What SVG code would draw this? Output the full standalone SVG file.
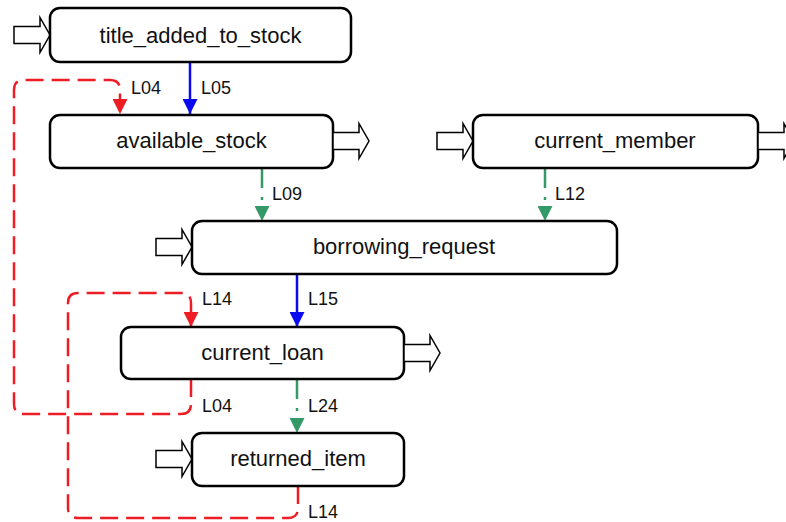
<svg xmlns="http://www.w3.org/2000/svg" width="786" height="522" viewBox="0 0 786 522">
<style>
.node rect{fill:#fff;stroke:#000;stroke-width:2.5}
.node text{font-family:"Liberation Sans",Arial,sans-serif;font-size:22px;fill:#111;text-anchor:middle}
.io{fill:#fff;stroke:#000;stroke-width:1.5}
.lbl{font-family:"Liberation Sans",Arial,sans-serif;font-size:18px;fill:#111}
.blue{stroke:#0a0af0;stroke-width:2.5;fill:none}
.red{stroke:#ee1c24;stroke-width:2.5;fill:none;stroke-dasharray:18 8}
.green{stroke:#339966;stroke-width:2.5;fill:none;stroke-dasharray:20 9 3 40}
</style>
<defs>
<path id="io" d="M0,-8.5 H26 V-17.5 L36,0 L26,17.5 V8.5 H0 Z"/>
<marker id="mb" markerUnits="userSpaceOnUse" markerWidth="16" markerHeight="15" refX="15" refY="7.5" orient="auto"><path d="M0,0 L15,7.5 L0,15 Z" fill="#0a0af0"/></marker>
<marker id="mr" markerUnits="userSpaceOnUse" markerWidth="16" markerHeight="15" refX="15" refY="7.5" orient="auto"><path d="M0,0 L15,7.5 L0,15 Z" fill="#ee1c24"/></marker>
<marker id="mg" markerUnits="userSpaceOnUse" markerWidth="16" markerHeight="15" refX="15" refY="7.5" orient="auto"><path d="M0,0 L15,7.5 L0,15 Z" fill="#339966"/></marker>
</defs>
<g id="connectors">
<path class="red" d="M191,379 V404 Q191,414 181,414 H24 Q14,414 14,404 V90 Q14,80 24,80 H110 Q120,80 120,90 V114" marker-end="url(#mr)"/>
<path class="red" d="M298,486 V508 Q298,518 288,518 H78 Q68,518 68,508 V303 Q68,293 78,293 H181 Q191,293 191,303 V327" marker-end="url(#mr)"/>
<path class="blue" d="M190,62 V114" marker-end="url(#mb)"/>
<path class="blue" d="M297,274 V327" marker-end="url(#mb)"/>
<path class="green" d="M262,168 V221" marker-end="url(#mg)"/>
<path class="green" d="M545,168 V221" marker-end="url(#mg)"/>
<path class="green" d="M297,379 V433" marker-end="url(#mg)"/>
<text class="lbl" x="131" y="94">L04</text>
<text class="lbl" x="201" y="94">L05</text>
<text class="lbl" x="272" y="200">L09</text>
<text class="lbl" x="555" y="200">L12</text>
<text class="lbl" x="202" y="305">L14</text>
<text class="lbl" x="308" y="305">L15</text>
<text class="lbl" x="202" y="412">L04</text>
<text class="lbl" x="308" y="412">L24</text>
<text class="lbl" x="308" y="518">L14</text>
</g>
<g id="title_added_to_stock" class="node">
<use href="#io" class="io" transform="translate(14,35)"/>
<rect x="50" y="8" width="301" height="54" rx="10"/>
<text x="200.5" y="43">title_added_to_stock</text>
</g>
<g id="available_stock" class="node">
<rect x="50" y="115" width="283" height="53" rx="10"/>
<use href="#io" class="io" transform="translate(333,141)"/>
<text x="191.5" y="148">available_stock</text>
</g>
<g id="current_member" class="node">
<use href="#io" class="io" transform="translate(437,141)"/>
<rect x="473" y="115" width="285" height="53" rx="10"/>
<use href="#io" class="io" transform="translate(758,141)"/>
<text x="615" y="148">current_member</text>
</g>
<g id="borrowing_request" class="node">
<use href="#io" class="io" transform="translate(156,247)"/>
<rect x="192" y="221" width="425" height="53" rx="10"/>
<text x="404" y="254">borrowing_request</text>
</g>
<g id="current_loan" class="node">
<rect x="121" y="327" width="283" height="52" rx="10"/>
<use href="#io" class="io" transform="translate(404,353)"/>
<text x="262.5" y="360">current_loan</text>
</g>
<g id="returned_item" class="node">
<use href="#io" class="io" transform="translate(156,459)"/>
<rect x="192" y="433" width="212" height="53" rx="10"/>
<text x="298" y="466">returned_item</text>
</g>
</svg>
